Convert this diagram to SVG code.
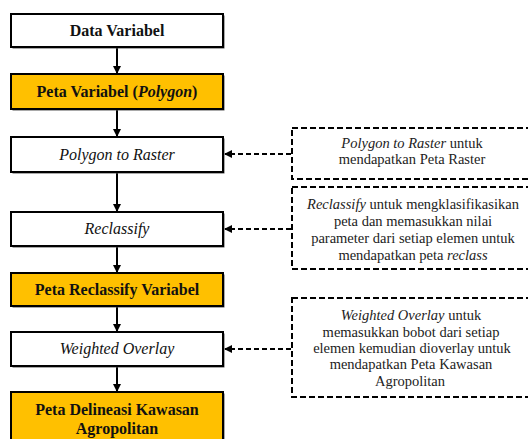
<svg xmlns="http://www.w3.org/2000/svg" width="528" height="439" viewBox="0 0 528 439">
<style>
.bx{fill:#fff;stroke:#000;stroke-width:2}
.yl{fill:#FFC000;stroke:#000;stroke-width:2}
.sh{fill:#555}
text{font-family:'Liberation Serif','Times New Roman',serif}
.t{font-size:16px;text-anchor:middle;fill:#111}
.b{font-weight:bold}
.i{font-style:italic}
.n{font-size:14.5px;text-anchor:middle;fill:#222}
.db{fill:#fff;stroke:#000;stroke-width:2;stroke-dasharray:6 3}
.ln{stroke:#000;stroke-width:2;fill:none}
.dl{stroke:#000;stroke-width:2;fill:none;stroke-dasharray:5 3}
</style>
<defs>
<marker id="ah" markerWidth="8" markerHeight="8" refX="7" refY="4" orient="auto" markerUnits="userSpaceOnUse">
<path d="M0,0 L8,4 L0,8 Z" fill="#000"/>
</marker>
</defs>
<rect width="528" height="439" fill="#fff"/>
<g id="connectors">
<line class="ln" x1="117" y1="47" x2="117" y2="73" marker-end="url(#ah)"/>
<line class="ln" x1="117" y1="109" x2="117" y2="136" marker-end="url(#ah)"/>
<line class="ln" x1="117" y1="172" x2="117" y2="211" marker-end="url(#ah)"/>
<line class="ln" x1="117" y1="246" x2="117" y2="272" marker-end="url(#ah)"/>
<line class="ln" x1="117" y1="306" x2="117" y2="331" marker-end="url(#ah)"/>
<line class="ln" x1="117" y1="366" x2="117" y2="391" marker-end="url(#ah)"/>
<line class="dl" x1="291" y1="154" x2="225" y2="154" marker-end="url(#ah)"/>
<line class="dl" x1="291" y1="229" x2="225" y2="229" marker-end="url(#ah)"/>
<line class="dl" x1="291" y1="349" x2="225" y2="349" marker-end="url(#ah)"/>
</g>
<g id="n1">
<rect class="sh" x="12.5" y="15.5" width="212" height="33"/>
<rect class="bx" x="11" y="14" width="212" height="33"/>
<text class="t b" x="117" y="36">Data Variabel</text>
</g>
<g id="n2">
<rect class="sh" x="12.5" y="75.5" width="212" height="35"/>
<rect class="yl" x="11" y="74" width="212" height="35"/>
<text class="t b" x="117" y="97">Peta Variabel (<tspan class="i">Polygon</tspan>)</text>
</g>
<g id="n3">
<rect class="sh" x="12.5" y="138.5" width="212" height="35"/>
<rect class="bx" x="11" y="137" width="212" height="35"/>
<text class="t i" x="117" y="160">Polygon to Raster</text>
</g>
<g id="n4">
<rect class="sh" x="12.5" y="213.5" width="212" height="34"/>
<rect class="bx" x="11" y="212" width="212" height="34"/>
<text class="t i" x="117" y="234">Reclassify</text>
</g>
<g id="n5">
<rect class="sh" x="12.5" y="274.5" width="212" height="33"/>
<rect class="yl" x="11" y="273" width="212" height="33"/>
<text class="t b" x="117" y="295">Peta Reclassify Variabel</text>
</g>
<g id="n6">
<rect class="sh" x="12.5" y="333.5" width="212" height="34"/>
<rect class="bx" x="11" y="332" width="212" height="34"/>
<text class="t i" x="117" y="354">Weighted Overlay</text>
</g>
<g id="n7">
<rect class="sh" x="12.5" y="393.5" width="212" height="60"/>
<rect class="yl" x="11" y="392" width="212" height="60"/>
<text class="t b" x="117" y="415">Peta Delineasi Kawasan</text>
<text class="t b" x="117" y="434">Agropolitan</text>
</g>
<g id="noteA">
<rect class="db" x="292" y="128" width="250" height="51"/>
<text class="n" x="412" y="148"><tspan class="i">Polygon to Raster</tspan> untuk</text>
<text class="n" x="412" y="164">mendapatkan Peta Raster</text>
</g>
<g id="noteB">
<rect class="db" x="292" y="187" width="250" height="82"/>
<text class="n" x="413" y="209"><tspan class="i">Reclassify</tspan> untuk mengklasifikasikan</text>
<text class="n" x="413" y="226">peta dan memasukkan nilai</text>
<text class="n" x="413" y="243">parameter dari setiap elemen untuk</text>
<text class="n" x="413" y="260">mendapatkan peta <tspan class="i">reclass</tspan></text>
</g>
<g id="noteC">
<rect class="db" x="292" y="298" width="250" height="99"/>
<text class="n" x="411" y="320"><tspan class="i">Weighted Overlay</tspan> untuk</text>
<text class="n" x="411" y="337">memasukkan bobot dari setiap</text>
<text class="n" x="412" y="353">elemen kemudian dioverlay untuk</text>
<text class="n" x="411" y="369">mendapatkan Peta Kawasan</text>
<text class="n" x="410" y="386">Agropolitan</text>
</g>
</svg>
